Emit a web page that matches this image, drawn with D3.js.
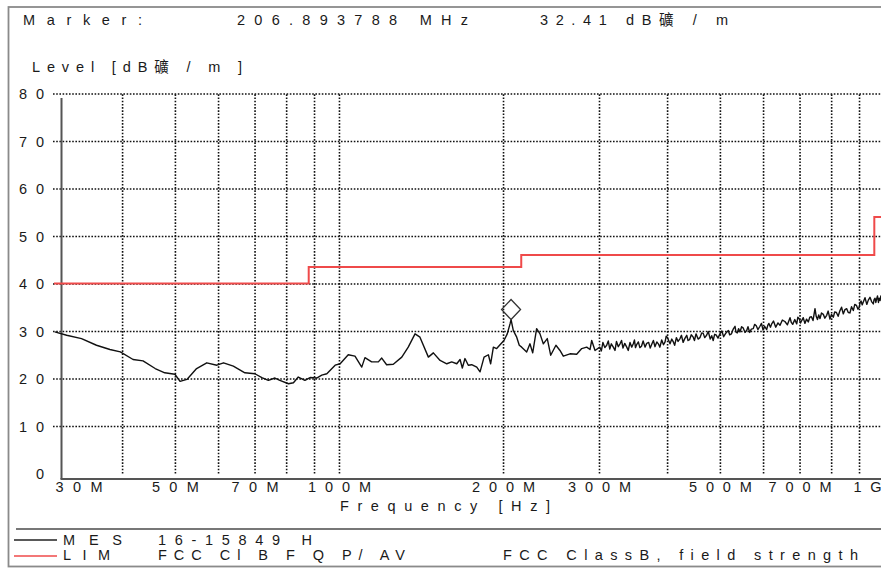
<!DOCTYPE html>
<html>
<head>
<meta charset="utf-8">
<script src="https://cdn.jsdelivr.net/npm/d3@7"></script>
<style>
  html, body { margin: 0; padding: 0; background: #fff; }
  svg { display: block; }
  text { font-family: "Liberation Sans", Arial, "Noto Sans CJK SC", sans-serif; fill: #1a1a1a; }
</style>
</head>
<body>
<svg id="chart" width="881" height="568"></svg>
<script>
// ---------------- data ----------------
const markerFreq = 206.893788;   // MHz
const markerLevel = 32.41;       // dBµV/m

const yTicks = [0, 10, 20, 30, 40, 50, 60, 70, 80];
const xGridFreqs = [40, 50, 60, 70, 80, 90, 100, 200, 300, 400, 500, 600, 700, 800, 900];
const xLabelFreqs = [30, 50, 70, 100, 200, 300, 500, 700, 1000];
const xLabelTexts = ["30M", "50M", "70M", "100M", "200M", "300M", "500M", "700M", "1G"];

// FCC Class B limit (step after each frequency)
const limitFreq  = [30, 88, 216, 960, 1000];
const limitLevel = [40, 43.5, 46, 54, 54];

// Measured trace (MES)
const traceFreq = [
  30.1, 31.65, 33.7, 35.9, 38.0, 39.7, 41.9, 43.7, 46.0, 47.9,
  50.0, 51.1, 52.6, 54.8, 57.2, 59.7, 61.4, 64.0, 67.2, 70.1,
  72.2, 74.2, 76.3, 77.9, 80.8, 82.5, 84.2, 86.6, 88.5, 91.0,
  93.0, 95.0, 98.4, 100.5, 104.0, 107.0, 110.1, 111.6, 114.8, 118.1,
  119.8, 122.3, 125.8, 130.4, 134.0, 137.9, 140.8, 145.9, 149.0, 153.3,
  157.7, 161.0, 164.5, 166.8, 168.4, 170.3, 172.7, 175.2, 179.0, 181.5,
  184.6, 188.0, 189.8, 192.0, 194.7, 197.5, 200.8, 203.6, 206.0, 206.9,
  208.9, 210.4, 211.9, 214.2, 216.4, 221.0, 224.1, 226.7, 230.5, 233.8,
  237.1, 241.1, 244.6, 250.1, 254.4, 258.0, 265.4, 273.0, 278.9, 284.8,
  288.8, 290.9, 295.0,
  301, 303, 305, 307.5, 309.9, 312, 314, 316, 318.7, 321,
  323, 325.5, 327.8, 330, 332, 334.5, 337.3, 339.5, 342, 344.5,
  346.8, 348.5, 350, 352, 354.3, 356.5, 359, 361.5, 364.4, 367,
  370, 372.5, 374.9, 377.5, 380, 383, 385.5, 388, 391, 394,
  396.6, 398.5, 400.4, 403, 405, 408, 410.7, 413, 416, 419,
  422.5, 425, 428, 431, 434.6, 437, 440, 443, 446.7, 449,
  452, 456, 459.5, 463, 466, 469, 472.7, 476, 480, 483,
  486, 489, 492, 496, 500, 504, 508, 513, 518.1, 521,
  525, 529, 533, 535, 538, 541, 544.3, 548, 552, 556,
  559.9, 563, 567, 571, 575.7, 579, 583, 587, 592.2, 596,
  600, 604, 609.2, 612, 615, 619, 622.3, 627, 633, 639,
  644.6, 651, 658, 665, 672.4, 676, 680, 686, 691.7, 695,
  699, 703, 706.5, 711, 716, 721, 726.3, 731, 736, 741,
  747.2, 751, 755, 759, 763.2, 768, 774, 779, 785.1, 790,
  796, 801, 807.3, 812, 818, 824, 830.4, 836, 842, 848,
  854.3, 860, 866, 872, 878.5, 884, 890, 896, 900.9, 904,
  908, 912, 916.4, 923, 930, 936, 942.7, 949, 956, 959,
  963, 966, 969.8, 973, 977, 980, 983.7, 987, 991, 995,
  1000
];
const traceLevel = [
  29.8, 29.1, 28.4, 27.0, 26.1, 25.6, 24.0, 23.7, 22.1, 21.2,
  20.9, 19.4, 19.8, 22.1, 23.3, 22.8, 23.3, 22.6, 21.2, 21.0,
  20.2, 19.6, 20.1, 19.6, 18.9, 19.1, 20.3, 19.6, 20.2, 20.1,
  20.7, 21.0, 22.8, 23.1, 25.0, 24.7, 22.4, 24.4, 23.5, 23.5,
  24.3, 22.9, 23.0, 24.5, 26.6, 29.4, 28.7, 24.5, 25.4, 23.8,
  23.1, 23.5, 23.1, 24.0, 22.2, 24.2, 22.8, 22.9, 22.4, 21.4,
  24.5, 25.0, 23.1, 26.6, 26.3, 27.1, 28.0, 29.4, 31.5, 32.4,
  30.1, 29.4, 28.7, 27.0, 26.6, 25.6, 27.3, 25.4, 30.5, 29.4,
  27.3, 28.4, 24.9, 27.0, 25.9, 24.7, 25.2, 25.1, 26.3, 26.6,
  26.1, 28.0, 25.9,
  26.6, 25.8, 27.6, 26.5, 27.0, 27.9, 26.2, 27.3, 26.6, 25.9,
  27.8, 26.7, 27.3, 28.0, 26.4, 27.4, 26.6, 25.9, 27.6, 26.6,
  27.3, 28.1, 26.5, 27.2, 27.7, 26.5, 26.8, 27.9, 26.6, 27.4,
  27.6, 26.4, 27.2, 28.0, 26.7, 27.7, 27.3, 26.6, 28.1, 27.1,
  27.7, 28.9, 28.7, 27.9, 27.3, 28.3, 27.7, 27.0, 28.6, 27.8,
  28.4, 29.1, 27.6, 28.4, 29.1, 28.0, 28.2, 29.2, 28.7, 28.0,
  29.4, 28.3, 28.6, 29.6, 29.5, 28.6, 29.1, 29.9, 28.3, 29.0,
  28.0, 29.3, 29.2, 28.5, 29.4, 30.0, 28.8, 29.6, 30.1, 29.2,
  29.4, 30.4, 31.0, 29.8, 29.6, 30.5, 29.8, 30.9, 30.6, 29.7,
  30.1, 30.9, 29.7, 30.4, 30.5, 31.4, 31.1, 30.3, 31.0, 31.6,
  30.2, 31.0, 30.3, 31.2, 31.6, 30.8, 31.5, 32.1, 30.8, 31.7,
  31.2, 32.3, 32.0, 31.3, 32.8, 31.8, 31.4, 32.4, 31.5, 32.9,
  32.6, 31.7, 32.2, 32.8, 31.6, 32.5, 31.9, 32.9, 33.0, 32.2,
  34.7, 33.1, 32.4, 33.4, 32.6, 33.8, 33.5, 32.7, 33.3, 34.2,
  32.5, 33.5, 32.9, 34.0, 33.9, 33.1, 34.3, 35.0, 33.6, 34.5,
  34.7, 33.9, 33.8, 35.1, 34.3, 35.6, 35.4, 34.6, 35.0, 36.0,
  36.3, 35.5, 36.1, 37.0, 35.6, 36.5, 37.1, 36.2, 35.7, 36.6,
  36.9, 36.0, 36.8, 37.4, 36.0, 36.9, 36.4, 37.4, 37.2, 36.5,
  36.6
];

// ---------------- drawing ----------------
const svg = d3.select("#chart");
const W = 881, H = 568;

const x = d3.scaleLog().domain([30, 1000]).range([54, 54 + 545 * Math.log10(1000 / 30)]);
const y = d3.scaleLinear().domain([0, 80]).range([473.5, 93.5]);

const plotLeft = 53, plotRight = W, axisY = 479, axisX = 61.5;

// outer frame
svg.append("rect").attr("x", 8.5).attr("y", 7).attr("width", W + 10).attr("height", 559.5)
  .attr("fill", "none").attr("stroke", "#8a8a8a").attr("stroke-width", 1.8);

// header texts
function txt(s, x0, yb, len, anchor) {
  const t = svg.append("text").attr("x", x0).attr("y", yb).attr("font-size", 14.5)
    .attr("text-anchor", anchor || "start").text(s);
  if (len) t.attr("textLength", len).attr("lengthAdjust", "spacing");
  return t;
}
txt("Marker:", 23, 25, 119);
txt(markerFreq.toFixed(6) + " MHz", 237, 25, 231);
txt(markerLevel.toFixed(2) + " dB礦 / m", 540, 25, 188);
txt("Level [dB礦 / m ]", 32, 72, 210);

// grid: horizontal
const gH = svg.append("g").attr("transform", `translate(${plotLeft},0)`)
  .call(d3.axisLeft(y).tickValues(yTicks.filter(v => v > 0)).tickSize(-(plotRight - plotLeft)).tickFormat(""));
gH.select(".domain").remove();
gH.selectAll("line").attr("stroke", "#111").attr("stroke-width", 1.6).attr("stroke-dasharray", "1.6,1.6");

// grid: vertical
const gV = svg.append("g").attr("transform", `translate(0,${y(0)})`)
  .call(d3.axisBottom(x).tickValues(xGridFreqs).tickSize(-(y(0) - y(80))).tickFormat(""));
gV.select(".domain").remove();
gV.selectAll("line").attr("stroke", "#111").attr("stroke-width", 1.6).attr("stroke-dasharray", "1.6,1.6");

// solid axes
svg.append("line").attr("x1", axisX).attr("x2", axisX).attr("y1", 98).attr("y2", axisY)
  .attr("stroke", "#555").attr("stroke-width", 2);
svg.append("line").attr("x1", axisX - 1).attr("x2", W).attr("y1", axisY).attr("y2", axisY)
  .attr("stroke", "#555").attr("stroke-width", 2);

// y labels
const gY = svg.append("g").attr("transform", "translate(44,0)")
  .call(d3.axisLeft(y).tickValues(yTicks).tickSize(0).tickPadding(0).tickFormat(d3.format("d")));
gY.select(".domain").remove();
gY.selectAll("text").attr("font-size", 14.5).attr("font-family", null).attr("fill", "#1a1a1a")
  .attr("text-anchor", "end").attr("dy", "0.36em")
  .each(function(d) { if (String(d).length > 1) d3.select(this).attr("textLength", 25).attr("lengthAdjust", "spacing"); });

// x labels
const gX = svg.append("g").attr("transform", `translate(0,${axisY})`)
  .call(d3.axisBottom(x).tickValues(xLabelFreqs).tickSize(0).tickFormat((d, i) => xLabelTexts[i]));
gX.select(".domain").remove();
gX.selectAll("text").attr("font-size", 14.5).attr("font-family", null).attr("fill", "#1a1a1a")
  .attr("y", 13).attr("dy", 0)
  .each(function(d, i) {
    const s = d3.select(this);
    const n = xLabelTexts[i].length;
    s.attr("textLength", n === 2 ? 28 : (n === 3 ? 47 : 63)).attr("lengthAdjust", "spacing");
    if (i === 0) s.attr("text-anchor", "start").attr("x", 55 - x(d));
    if (i === xLabelFreqs.length - 1) s.attr("text-anchor", "start").attr("x", 853 - x(d));
  });

txt("Frequency [Hz]", 340, 511, 210);

// clip
svg.append("clipPath").attr("id", "clip").append("rect")
  .attr("x", 54).attr("y", 80).attr("width", W - 54).attr("height", 400);

// limit line
const limData = limitFreq.map((f, i) => [f, limitLevel[i]]);
svg.append("path").datum(limData).attr("clip-path", "url(#clip)")
  .attr("fill", "none").attr("stroke", "#ef4a4a").attr("stroke-width", 2)
  .attr("d", d3.line().x(d => x(d[0])).y(d => y(d[1])).curve(d3.curveStepAfter));

// measured trace
const trData = traceFreq.map((f, i) => [f, traceLevel[i]]);
svg.append("path").datum(trData).attr("clip-path", "url(#clip)")
  .attr("fill", "none").attr("stroke", "#111").attr("stroke-width", 1.4).attr("stroke-linejoin", "round")
  .attr("d", d3.line().x(d => x(d[0])).y(d => y(d[1])));

// marker diamond
const mx = x(markerFreq), my = y(markerLevel) - 10;
svg.append("path").attr("fill", "none").attr("stroke", "#333").attr("stroke-width", 1.3)
  .attr("d", `M${mx},${my - 10}L${mx + 9.5},${my}L${mx},${my + 10}L${mx - 9.5},${my}Z`);

// separator
svg.append("line").attr("x1", 16).attr("x2", W).attr("y1", 529).attr("y2", 529)
  .attr("stroke", "#777").attr("stroke-width", 2);

// legend
svg.append("line").attr("x1", 14).attr("x2", 57).attr("y1", 540).attr("y2", 540)
  .attr("stroke", "#222").attr("stroke-width", 1.5);
svg.append("line").attr("x1", 14).attr("x2", 57).attr("y1", 556).attr("y2", 556)
  .attr("stroke", "#ef4a4a").attr("stroke-width", 1.5);
txt("MES", 63, 545, 59);
txt("16-15849 H", 158, 545, 154);
txt("LIM", 63, 560, 47);
txt("FCC Cl B F Q P/ AV", 158, 560, 247);
txt("FCC ClassB, field strength", 503, 560, 355);
</script>
</body>
</html>
